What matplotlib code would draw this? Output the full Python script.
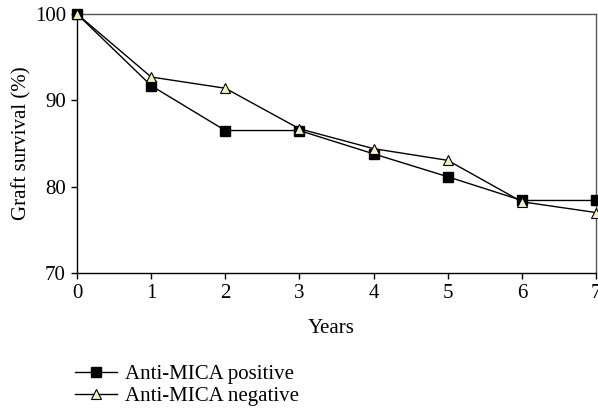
import matplotlib
matplotlib.use("Agg")
import matplotlib.pyplot as plt

years = [0, 1, 2, 3, 4, 5, 6, 7]
positive = [100, 91.7, 86.5, 86.5, 83.8, 81.15, 78.4, 78.4]
negative = [100, 92.7, 91.4, 86.7, 84.4, 83.05, 78.25, 77.0]
yticks = [70, 80, 90, 100]

plt.rcParams['font.family'] = ['Liberation Serif', 'DejaVu Serif']
plt.rcParams['font.size'] = 15

fig = plt.figure(figsize=(5.98, 4.08), dpi=100)
ax = fig.add_axes([0.1288, 0.3309, 0.8679, 0.6348])

ax.plot(years, positive, color='black', lw=1.0, marker='s', markersize=7.5,
        markerfacecolor='black', markeredgecolor='black', label='Anti-MICA positive', clip_on=False, zorder=3)
ax.plot(years, negative, color='black', lw=1.0, marker='^', markersize=6.5,
        markerfacecolor='#f3efc2', markeredgecolor='black', markeredgewidth=0.8,
        label='Anti-MICA negative', clip_on=False, zorder=4)

ax.set_xlim(0, 7)
ax.set_ylim(70, 100)
ax.set_xticks(years)
ax.set_yticks(yticks)
ax.tick_params(direction='out', length=4, width=1, pad=4, labelsize=15)
for s in ['left', 'bottom']:
    ax.spines[s].set_color('black')
    ax.spines[s].set_linewidth(1.0)
for s in ['top', 'right']:
    ax.spines[s].set_color('#555555')
    ax.spines[s].set_linewidth(1.0)

ax.set_xlabel('Years', fontsize=15)
ax.xaxis.set_label_coords(0.49, -0.178)
ax.set_ylabel('Graft survival (%)', fontsize=15)
ax.yaxis.set_label_coords(-0.088, 0.5)

fig.legend(loc='lower left', bbox_to_anchor=(0.125, 0.005), frameon=False,
           handlelength=2.05, handletextpad=0.35, fontsize=15, labelspacing=0.1,
           borderaxespad=0, borderpad=0)

fig.savefig('out.png', dpi=100)
